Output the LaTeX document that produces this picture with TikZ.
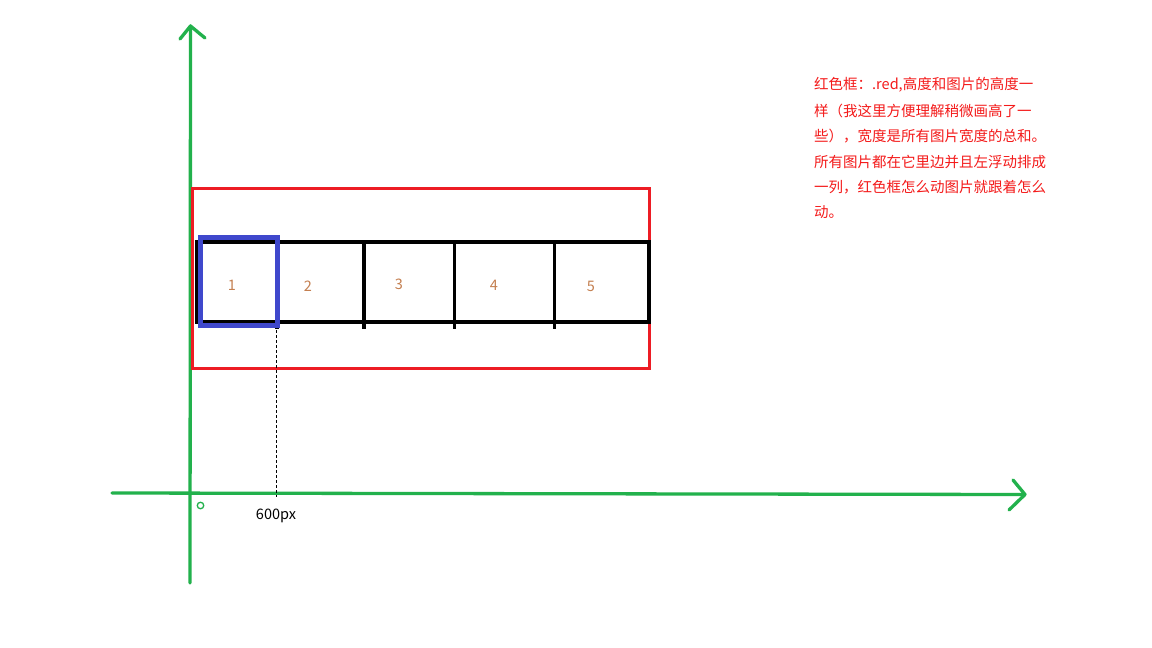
\documentclass[tikz,border=0pt]{standalone}
\usepackage{fontspec}
\setmainfont{Noto Sans CJK SC}
\definecolor{axisgreen}{HTML}{22B14C}
\definecolor{boxred}{HTML}{ED1C24}
\definecolor{boxblue}{HTML}{3F48CC}
\definecolor{numcol}{HTML}{C47F50}
\definecolor{notered}{HTML}{F41A1A}
\tikzset{
  axisline/.style={draw=axisgreen, line width=3.3pt, line cap=round, line join=round},
  num/.style={text=numcol, font=\fontsize{14.5}{16}\selectfont, inner sep=0pt},
  note/.style={text=notered, font=\fontsize{14.5}{18}\selectfont, inner sep=0pt, anchor=west},
  strip/.style={draw=black, line width=3.3pt},
}
\begin{document}
\begin{tikzpicture}[x=1pt,y=-1pt]
\useasboundingbox[fill=white] (0,0) rectangle (1152,648);
% axes
\coordinate (ytop) at (190.5,26);
\coordinate (ybot) at (190,583);
\coordinate (yl) at (180,39);
\coordinate (yr) at (205,38);
\coordinate (xleft) at (112,493);
\coordinate (xtip) at (1025,494.5);
\coordinate (xu) at (1013,480);
\coordinate (xd) at (1009,510);
\draw[axisline] (ybot) -- (ytop);
\draw[axisline] (yl) -- (ytop) -- (yr);
\draw[axisline] (xleft) -- (xtip);
\draw[axisline] (xu) -- (xtip) -- (xd);
\node[draw=axisgreen, line width=1.3pt, circle, minimum size=6.5pt, inner sep=0pt] (origin) at (200.5,505.5) {};
% red container
\node[draw=boxred, line width=3pt, minimum width=457pt, minimum height=180pt, inner sep=0pt, outer sep=0pt, anchor=north west] (red) at (192.5,188.5) {};
% strip of pictures
\coordinate (s0t) at (197,242);
\coordinate (s5b) at (649,322);
\draw[strip] (s0t) rectangle (s5b);
\foreach \x in {364,454.5,554.5}{
  \draw[strip] (\x,242) -- (\x,329);
}
\draw[strip] (277,322) -- (277,329);
% numbers
\node[num] (n1) at (232,285) {1};
\node[num] (n2) at (308,286) {2};
\node[num] (n3) at (399,284) {3};
\node[num] (n4) at (494,285) {4};
\node[num] (n5) at (591,286) {5};
% blue viewport
\node[draw=boxblue, line width=5pt, minimum width=77pt, minimum height=88pt, inner sep=0pt, outer sep=0pt, anchor=north west] (view) at (200.5,237.5) {};
% dashed line to 600px
\coordinate (dtop) at (276.5,330);
\coordinate (dbot) at (276.5,497);
\draw[black, line width=0.7pt, dash pattern=on 3pt off 2pt] (dtop) -- (dbot);
\node[text=black, font=\fontsize{14.5}{16}\selectfont, inner sep=0pt] (px) at (276,516) {600px};
% note text
\node[note] (l1) at (814,85) {红色框：.red,高度和图片的高度一};
\node[note] (l2) at (814,110.5) {样（我这里方便理解稍微画高了一};
\node[note] (l3) at (814,136) {些），宽度是所有图片宽度的总和。};
\node[note] (l4) at (814,161.5) {所有图片都在它里边并且左浮动排成};
\node[note] (l5) at (814,187) {一列，红色框怎么动图片就跟着怎么};
\node[note] (l6) at (814,212.5) {动。};
\end{tikzpicture}
\end{document}
